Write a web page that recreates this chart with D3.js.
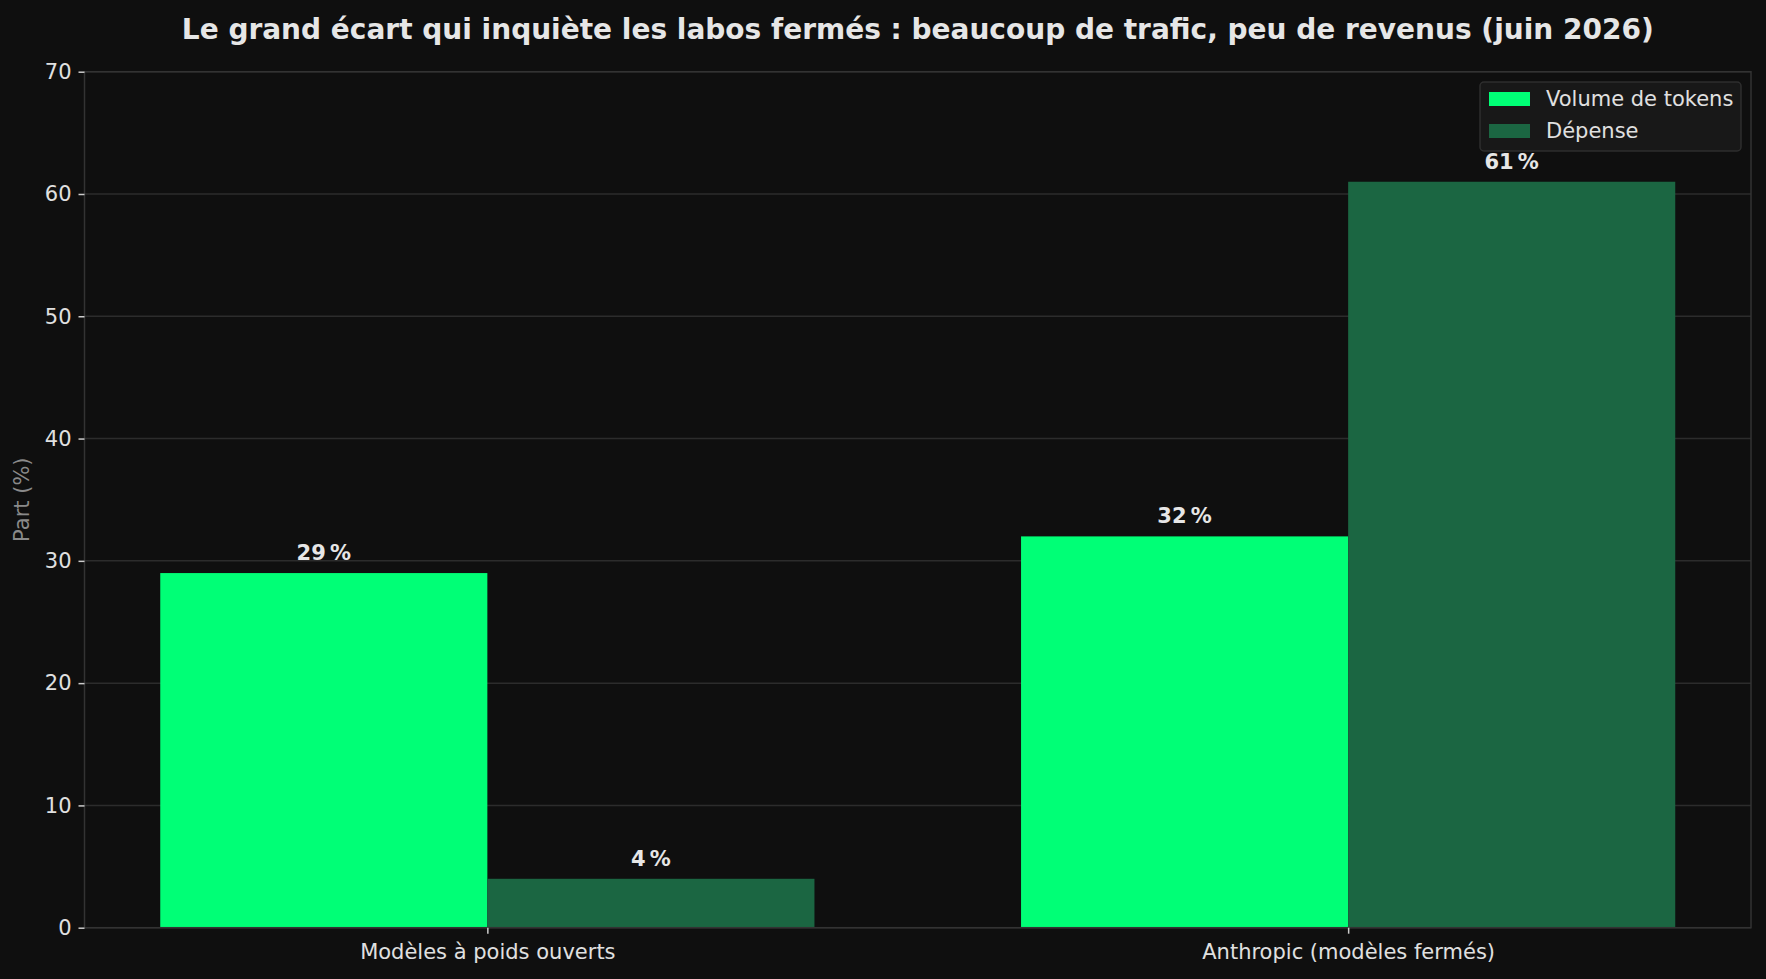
<!DOCTYPE html>
<html>
<head>
<meta charset="utf-8">
<script src="https://cdn.jsdelivr.net/npm/d3@7"></script>
<style>
  html, body { margin: 0; padding: 0; background: #0f0f0f; }
  svg { display: block; font-family: "DejaVu Sans", sans-serif; }
</style>
</head>
<body>
<div id="chart"></div>
<script>
// data
const categories = ["Modèles à poids ouverts", "Anthropic (modèles fermés)"];
const seriesNames = ["Volume de tokens", "Dépense"];
const tokenShare = [29, 32];
const spendShare = [4, 61];
const yTicks = [0, 10, 20, 30, 40, 50, 60, 70];

const W = 1766, H = 979;
const colors = ["#00ff76", "#1b6642"];
const barWidth = 0.38;
const fs = 21;

const svg = d3.select("#chart").append("svg")
    .attr("width", W)
    .attr("height", H);

svg.append("rect").attr("width", W).attr("height", H).attr("fill", "#0f0f0f");

// plot area
const mLeft = 84.5, mRight = 1751, mTop = 71.7, mBottom = 927.7;

let x = d3.scaleLinear()
    .domain([-0.468, 1.468])
    .range([mLeft, mRight]);

let y = d3.scaleLinear()
    .domain([0, 70])
    .range([mBottom, mTop]);

// grid
svg.append("g")
    .selectAll("line")
    .data(yTicks)
    .join("line")
    .attr("x1", mLeft)
    .attr("x2", mRight)
    .attr("y1", d => y(d))
    .attr("y2", d => y(d))
    .attr("stroke", "#2c2c2c")
    .attr("stroke-width", 1.5);

// bars
let rows = categories.map((c, i) => ({cat: c, idx: i, vals: [tokenShare[i], spendShare[i]]}));

rows.forEach(r => {
    r.vals.forEach((v, s) => {
        let x0 = r.idx + (s === 0 ? -barWidth : 0);
        svg.append("rect")
            .attr("x", x(x0))
            .attr("y", y(v))
            .attr("width", x(x0 + barWidth) - x(x0))
            .attr("height", y(0) - y(v))
            .attr("fill", colors[s]);

        svg.append("text")
            .attr("x", x(x0 + barWidth / 2))
            .attr("y", y(v) - 13)
            .attr("text-anchor", "middle")
            .attr("fill", "#e6e6e6")
            .attr("font-weight", "bold")
            .attr("font-size", fs)
            .text(v + "\u202f%");
    });
});

// frame
svg.append("rect")
    .attr("x", mLeft)
    .attr("y", mTop)
    .attr("width", mRight - mLeft)
    .attr("height", mBottom - mTop)
    .attr("fill", "none")
    .attr("stroke", "#333333")
    .attr("stroke-width", 1.5);

// y axis
let yAxis = svg.append("g")
    .attr("transform", `translate(${mLeft},0)`)
    .call(d3.axisLeft(y).tickValues(yTicks).tickSize(6).tickPadding(7));
yAxis.select(".domain").remove();
yAxis.selectAll(".tick line").attr("stroke", "#cccccc").attr("stroke-width", 1.5);
yAxis.selectAll(".tick text")
    .attr("fill", "#e0e0e0")
    .attr("font-size", fs)
    .attr("font-family", "DejaVu Sans");

// x axis
let xAxis = svg.append("g")
    .attr("transform", `translate(0,${mBottom})`)
    .call(d3.axisBottom(x).tickValues([0, 1]).tickFormat(i => categories[i]).tickSize(6).tickPadding(10));
xAxis.select(".domain").remove();
xAxis.selectAll(".tick line").attr("stroke", "#cccccc").attr("stroke-width", 1.5);
xAxis.selectAll(".tick text")
    .attr("fill", "#e0e0e0")
    .attr("font-size", fs)
    .attr("font-family", "DejaVu Sans");

// y label
svg.append("text")
    .attr("transform", `translate(29,${(mTop + mBottom) / 2}) rotate(-90)`)
    .attr("text-anchor", "middle")
    .attr("fill", "#8a8a8a")
    .attr("font-size", fs)
    .text("Part (%)");

// title
svg.append("text")
    .attr("x", (mLeft + mRight) / 2)
    .attr("y", 39)
    .attr("text-anchor", "middle")
    .attr("fill", "#e6e6e6")
    .attr("font-weight", "bold")
    .attr("font-size", 28)
    .text("Le grand écart qui inquiète les labos fermés : beaucoup de trafic, peu de revenus (juin 2026)");

// legend
let legend = svg.append("g").attr("transform", "translate(1480,82)");
legend.append("rect")
    .attr("width", 261)
    .attr("height", 69)
    .attr("rx", 4)
    .attr("fill", "#181818")
    .attr("stroke", "#2e2e2e")
    .attr("stroke-width", 1.5);

seriesNames.forEach((name, i) => {
    legend.append("rect")
        .attr("x", 9)
        .attr("y", 10 + i * 32)
        .attr("width", 41)
        .attr("height", 14)
        .attr("fill", colors[i]);
    legend.append("text")
        .attr("x", 66)
        .attr("y", 17 + i * 32)
        .attr("dy", "0.35em")
        .attr("fill", "#e0e0e0")
        .attr("font-size", fs)
        .text(name);
});
</script>
</body>
</html>
